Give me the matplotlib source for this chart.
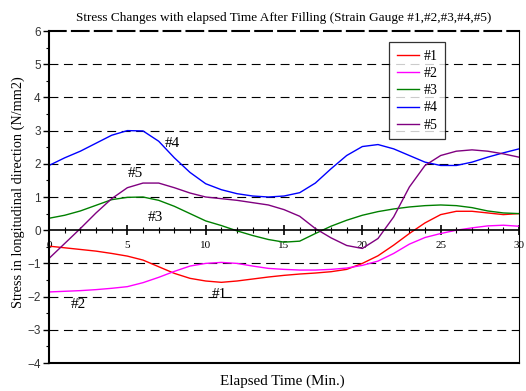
import numpy as np
import matplotlib
matplotlib.use("Agg")
import matplotlib.pyplot as plt
from matplotlib.ticker import MultipleLocator

plt.rcParams["font.family"] = ["Liberation Serif", "DejaVu Serif"]

# elapsed time (min) and stress readings (N/mm2)
minutes = list(range(31))
gauge1 = [-0.48, -0.53, -0.58, -0.63, -0.70, -0.78, -0.90, -1.10, -1.30, -1.45,
          -1.53, -1.57, -1.53, -1.47, -1.41, -1.36, -1.32, -1.29, -1.25, -1.18,
          -1.00, -0.77, -0.45, -0.10, 0.22, 0.47, 0.57, 0.57, 0.52, 0.47, 0.50]
gauge2 = [-1.86, -1.84, -1.82, -1.79, -1.75, -1.70, -1.58, -1.42, -1.24, -1.08,
          -1.00, -0.97, -1.00, -1.08, -1.15, -1.18, -1.20, -1.20, -1.18, -1.14,
          -1.06, -0.93, -0.70, -0.42, -0.22, -0.10, 0.00, 0.07, 0.13, 0.15, 0.12]
gauge3 = [0.36, 0.45, 0.58, 0.75, 0.92, 0.99, 1.00, 0.90, 0.72, 0.50,
          0.28, 0.14, -0.02, -0.16, -0.28, -0.36, -0.33, -0.10, 0.12, 0.30,
          0.45, 0.56, 0.64, 0.70, 0.74, 0.76, 0.74, 0.68, 0.58, 0.52, 0.50]
gauge4 = [1.95, 2.18, 2.38, 2.62, 2.86, 3.00, 2.99, 2.68, 2.18, 1.74,
          1.40, 1.22, 1.10, 1.03, 1.00, 1.03, 1.13, 1.42, 1.85, 2.25,
          2.52, 2.58, 2.45, 2.25, 2.05, 1.95, 1.95, 2.05, 2.20, 2.33, 2.45]
gauge5 = [-0.85, -0.40, 0.05, 0.52, 0.95, 1.28, 1.42, 1.42, 1.28, 1.12,
          1.00, 0.95, 0.90, 0.83, 0.76, 0.62, 0.42, 0.05, -0.23, -0.46,
          -0.55, -0.25, 0.40, 1.30, 1.95, 2.25, 2.38, 2.42, 2.38, 2.30, 2.20]

series = [("#1", gauge1, "#ff0000"), ("#2", gauge2, "#ff00ff"),
          ("#3", gauge3, "#008000"), ("#4", gauge4, "#0000ff"),
          ("#5", gauge5, "#800080")]
# curve tags written next to the lines
tags = [("#1", 10.9, -1.93), ("#2", 1.85, -2.23), ("#3", 6.8, 0.39),
        ("#4", 7.85, 2.62), ("#5", 5.5, 1.72)]

fig = plt.figure(figsize=(5.26, 3.91), dpi=100)
ax = fig.add_axes([0.0932, 0.0716, 0.8935, 0.8491])

for name, vals, col in series:
    ax.plot(minutes, vals, color=col, lw=1.0, label=name)

for txt, x, y in tags:
    ax.text(x, y, txt, fontsize=11, ha="center", va="center")

ax.set_xlim(0, 30)
ax.set_ylim(-4, 6)
ax.yaxis.set_major_locator(MultipleLocator(1))
ax.yaxis.set_minor_locator(MultipleLocator(0.5))
ax.xaxis.set_major_locator(MultipleLocator(5))
ax.xaxis.set_minor_locator(MultipleLocator(1))

for v in range(-3, 6):
    if v != 0:
        ax.axhline(v, color="black", lw=0.8, ls=(0, (8, 5)), zorder=0)

# x axis sits on the zero line, frame closed below
ax.spines["bottom"].set_position(("data", 0))
ax.spines["bottom"].set_linewidth(1.2)
ax.spines["left"].set_linewidth(1.5)
ax.spines["right"].set_linewidth(0.8)
ax.spines["top"].set_linestyle((0, (8, 3)))
ax.spines["top"].set_linewidth(1.5)
ax.plot([0, 1], [0, 0], transform=ax.transAxes, color="black", lw=1.5,
        clip_on=False)

ax.tick_params(axis="x", which="major", direction="inout", length=7, width=1.2,
               labelsize=8, pad=4)
ax.tick_params(axis="x", which="minor", direction="inout", length=5, width=0.8)
ax.tick_params(axis="y", which="major", direction="out", length=4, width=1,
               labelsize=8.5, pad=2)
ax.tick_params(axis="y", which="minor", direction="out", length=2.5, width=0.8)
for lab in ax.get_yticklabels():
    lab.set_family(["Liberation Sans", "DejaVu Sans"])
    lab.set_color("#333333")

ax.set_title("Stress Changes with elapsed Time After Filling (Strain Gauge #1,#2,#3,#4,#5)",
             fontsize=9.5, pad=7)
ax.set_ylabel("Stress in longitudinal direction (N/mm2)", fontsize=10.3)
ax.yaxis.set_label_coords(-0.052, 0.515)
fig.text(0.537, 0.025, "Elapsed Time (Min.)", ha="center", va="center", fontsize=10.8)

leg = ax.legend(loc="upper left", bbox_to_anchor=(0.724, 0.966), fontsize=10,
                frameon=True, fancybox=False, edgecolor="black",
                handlelength=1.6, handletextpad=0.3, labelspacing=0.3,
                borderpad=0.55, borderaxespad=0)
leg.get_frame().set_linewidth(0.9)

fig.savefig("out.png", dpi=100)
